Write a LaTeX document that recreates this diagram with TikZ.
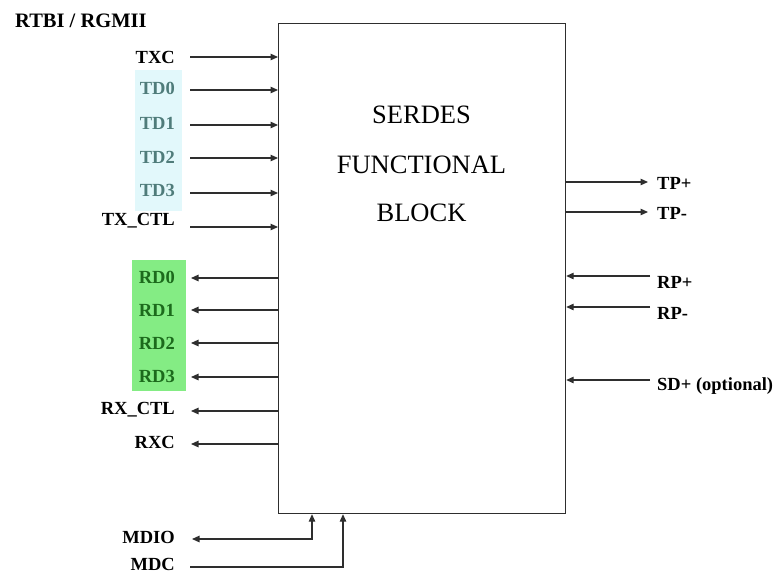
\documentclass[tikz,border=0pt]{standalone}
\usepackage{fontspec}
\setmainfont{Liberation Serif}
\usetikzlibrary{arrows.meta}
\definecolor{tdbg}{HTML}{E2F8FB}
\definecolor{tdtxt}{HTML}{4F7C7A}
\definecolor{rdbg}{HTML}{84EC84}
\definecolor{rdtxt}{HTML}{1C6A1C}
\definecolor{ln}{HTML}{2E2E2E}
\begin{document}
\begin{tikzpicture}[x=1pt,y=-1pt,
  lbl/.style={font=\fontsize{18.5}{20}\selectfont\bfseries, inner sep=0pt},
  ttl/.style={font=\fontsize{26.5}{28}\selectfont, inner sep=0pt},
  arr/.style={draw=ln, line width=1.2pt, -{Triangle[length=7.5pt,width=6.5pt]}},
  barr/.style={draw=ln, line width=1.2pt, {Triangle[length=7.5pt,width=6.5pt]}-{Triangle[length=7.5pt,width=6.5pt]}},
]
\useasboundingbox (0,0) rectangle (777,573);
% background highlights
\fill[tdbg] (135,70) rectangle (182,211);
\fill[rdbg] (132,260) rectangle (186,391);
% main block
\node[draw=ln, line width=1.2pt, minimum width=287pt, minimum height=490pt, inner sep=0pt, anchor=north west] (box) at (278,23) {};
\node[ttl] (t1) at (421.5,115) {SERDES};
\node[ttl] (t2) at (421.5,165) {FUNCTIONAL};
\node[ttl] (t3) at (421.5,213) {BLOCK};
% header
\node[lbl, font=\fontsize{20.5}{22}\selectfont\bfseries, anchor=west] (hdr) at (15,21) {RTBI / RGMII};
% transmit inputs
\foreach \n/\t/\ly/\ay/\c in {txc/TXC/57/57/black, td0/TD0/88/90/tdtxt, td1/TD1/123/125/tdtxt, td2/TD2/157/158/tdtxt, td3/TD3/190/193/tdtxt, txctl/TX\_CTL/221/227/black}{
  \node[lbl, anchor=east, text=\c] (\n) at (175,\ly) {\t};
  \coordinate (\n s) at (190,\ay);
  \draw[arr] (\n s) -- (\n s -| box.west);
}
% receive outputs
\foreach \n/\t/\ly/\ay/\c in {rd0/RD0/277/278/rdtxt, rd1/RD1/310/310/rdtxt, rd2/RD2/343/343/rdtxt, rd3/RD3/376/377/rdtxt, rxctl/RX\_CTL/410/411/black, rxc/RXC/442/444/black}{
  \node[lbl, anchor=east, text=\c] (\n) at (175,\ly) {\t};
  \coordinate (\n e) at (191,\ay);
  \draw[arr] (\n e -| box.west) -- (\n e);
}
% serial side
\foreach \n/\t/\ly/\ay in {tpp/TP+/183/182, tpm/TP-/213/212}{
  \node[lbl, anchor=west] (\n) at (657,\ly) {\t};
  \coordinate (\n e) at (648,\ay);
  \draw[arr] (\n e -| box.east) -- (\n e);
}
\foreach \n/\t/\ly/\ay in {rpp/RP+/282/276, rpm/RP-/313/307, sdp/SD+ (optional)/386/380}{
  \node[lbl, anchor=west] (\n) at (657,\ly) {\t};
  \coordinate (\n s) at (650,\ay);
  \draw[arr] (\n s) -- (\n s -| box.east);
}
% management
\node[lbl, anchor=east] (mdio) at (175,537) {MDIO};
\node[lbl, anchor=east] (mdc) at (175,564) {MDC};
\coordinate (mdioe) at (192,539);
\coordinate (mdiox) at (312,539);
\coordinate (mdcs) at (190,567);
\coordinate (mdcx) at (343,567);
\draw[barr] (mdioe) -- (mdiox) -- (mdiox |- box.south);
\draw[arr] (mdcs) -- (mdcx) -- (mdcx |- box.south);
\end{tikzpicture}
\end{document}
